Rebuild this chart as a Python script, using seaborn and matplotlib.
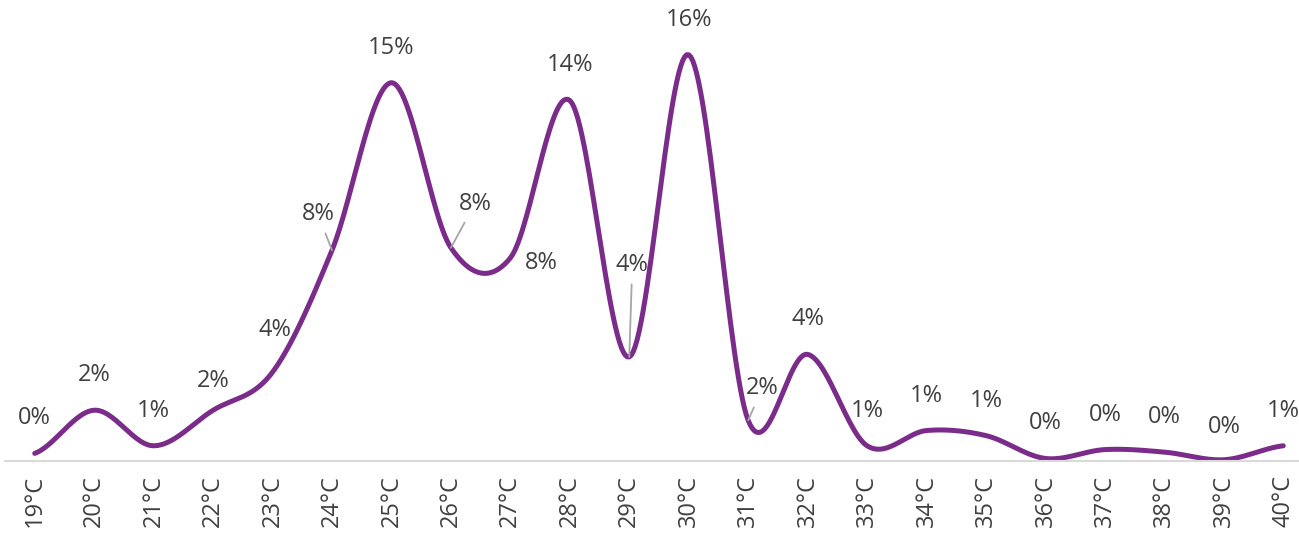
import numpy as np
import pandas as pd
import matplotlib
matplotlib.use("Agg")
import matplotlib.pyplot as plt
import seaborn as sns

# temperature buckets and share of readings (%)
temps = ["19°C", "20°C", "21°C", "22°C", "23°C", "24°C", "25°C", "26°C",
         "27°C", "28°C", "29°C", "30°C", "31°C", "32°C", "33°C", "34°C",
         "35°C", "36°C", "37°C", "38°C", "39°C", "40°C"]
share = [0.3, 2.0, 0.6, 2.0, 3.5, 8.3, 14.9, 8.4, 8.0, 14.2, 4.1, 16.0,
         1.6, 4.2, 0.6, 1.2, 1.0, 0.1, 0.45, 0.35, 0.05, 0.6]
labels = ["0%", "2%", "1%", "2%", "4%", "8%", "15%", "8%", "8%", "14%", "4%",
          "16%", "2%", "4%", "1%", "1%", "1%", "0%", "0%", "0%", "0%", "1%"]

PURPLE = "#7B2C8A"
TEXT = "#404040"
LEADER = "#A6A6A6"


def smooth(vals, steps=30):
    # excel-like smoothed line (bezier through the points)
    v = np.asarray(vals, dtype=float)
    n = len(v)
    xs, ys = [], []
    for i in range(n - 1):
        prev_v = v[i - 1] if i > 0 else v[i]
        next_v = v[i + 2] if i + 2 < n else v[i + 1]
        p0, p3 = v[i], v[i + 1]
        p1 = p0 + (p3 - prev_v) / 6
        p2 = p3 - (next_v - p0) / 6
        t = np.linspace(0, 1, steps, endpoint=False)
        ys.extend((1 - t) ** 3 * p0 + 3 * (1 - t) ** 2 * t * p1
                  + 3 * (1 - t) * t ** 2 * p2 + t ** 3 * p3)
        xs.extend(i + t)
    xs.append(n - 1)
    ys.append(v[-1])
    return pd.DataFrame({"x": xs, "y": ys})


sns.set_theme(style="white")
plt.rcParams["font.family"] = ["Open Sans", "DejaVu Sans"]

fig = plt.figure(figsize=(12.99, 5.42), dpi=100)
ax = fig.add_axes([5 / 1299, 81 / 542, 1308 / 1299, 457 / 542])

curve = smooth(share)
sns.lineplot(data=curve, x="x", y="y", ax=ax, color=PURPLE, linewidth=3.6,
             solid_capstyle="round")

# label offsets in pixels (dx, dy); most sit right above the point
offsets = {i: (0, 35) for i in range(len(share))}
offsets.update({3: (0, 29), 4: (2, 42), 5: (-14, 36), 7: (24, 44),
                8: (31, -5), 10: (3, 92), 12: (14, 32), 20: (0, 33)})
leaders = {5, 7, 10, 12}

for i, (val, lab) in enumerate(zip(share, labels)):
    kw = {}
    if i in leaders:
        kw["arrowprops"] = dict(arrowstyle="-", color=LEADER, lw=1.3,
                                shrinkA=3, shrinkB=0)
    ax.annotate(lab, xy=(i, val), xytext=offsets[i], textcoords="offset pixels",
                ha="center", va="center", fontsize=17, color=TEXT, **kw)

ax.set_xlim(-0.5, len(temps) - 0.5)
ax.set_ylim(0, 18)
ax.set_xticks(range(len(temps)))
ax.set_xticklabels(temps, rotation=90, fontsize=17, color=TEXT)
ax.set_yticks([])
ax.set_xlabel("")
ax.set_ylabel("")
ax.tick_params(axis="x", length=0, pad=10)
for side in ["top", "right", "left"]:
    ax.spines[side].set_visible(False)
ax.spines["bottom"].set_color("#D9D9D9")
ax.spines["bottom"].set_linewidth(1.5)
ax.grid(False)

fig.savefig("out.png", dpi=100)
